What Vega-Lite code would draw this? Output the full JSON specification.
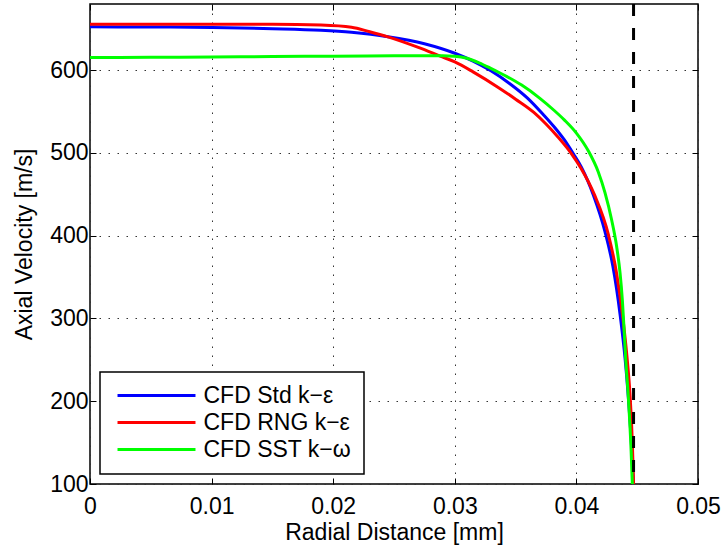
{
  "$schema": "https://vega.github.io/schema/vega-lite/v6.json",
  "width": 608,
  "height": 480,
  "autosize": "none",
  "padding": {"left": 90, "top": 4, "right": 26, "bottom": 62},
  "background": "white",
  "config": {
    "font": "Liberation Sans",
    "view": {"stroke": "black", "strokeWidth": 1.5},
    "axis": {
      "labelFontSize": 23,
      "titleFontSize": 23,
      "titleFontWeight": "normal",
      "labelColor": "black",
      "titleColor": "black",
      "domain": false,
      "tickColor": "black",
      "tickWidth": 1,
      "tickSize": -6,
      "gridColor": "#333333",
      "gridDash": [1.5, 7.5],
      "gridOpacity": 1,
      "gridWidth": 1
    }
  },
  "datasets": {
    "curves": [
      {"m": "CFD Std k−ε", "x": 0, "v": 652.4},
      {"m": "CFD Std k−ε", "x": 0.005, "v": 652.2},
      {"m": "CFD Std k−ε", "x": 0.01, "v": 651.6},
      {"m": "CFD Std k−ε", "x": 0.015, "v": 650.2},
      {"m": "CFD Std k−ε", "x": 0.019, "v": 648.3},
      {"m": "CFD Std k−ε", "x": 0.0215, "v": 645.8},
      {"m": "CFD Std k−ε", "x": 0.0245, "v": 640.5},
      {"m": "CFD Std k−ε", "x": 0.0275, "v": 632},
      {"m": "CFD Std k−ε", "x": 0.03, "v": 620.5},
      {"m": "CFD Std k−ε", "x": 0.0315, "v": 611},
      {"m": "CFD Std k−ε", "x": 0.033, "v": 599},
      {"m": "CFD Std k−ε", "x": 0.0345, "v": 584},
      {"m": "CFD Std k−ε", "x": 0.036, "v": 566},
      {"m": "CFD Std k−ε", "x": 0.0373, "v": 546},
      {"m": "CFD Std k−ε", "x": 0.0382, "v": 531},
      {"m": "CFD Std k−ε", "x": 0.039, "v": 516},
      {"m": "CFD Std k−ε", "x": 0.03975, "v": 499},
      {"m": "CFD Std k−ε", "x": 0.0404, "v": 483},
      {"m": "CFD Std k−ε", "x": 0.0414, "v": 449},
      {"m": "CFD Std k−ε", "x": 0.04235, "v": 405},
      {"m": "CFD Std k−ε", "x": 0.043, "v": 363},
      {"m": "CFD Std k−ε", "x": 0.04359, "v": 305},
      {"m": "CFD Std k−ε", "x": 0.044, "v": 252},
      {"m": "CFD Std k−ε", "x": 0.04427, "v": 205},
      {"m": "CFD Std k−ε", "x": 0.0445, "v": 155},
      {"m": "CFD Std k−ε", "x": 0.0447, "v": 100},
      {"m": "CFD RNG k−ε", "x": 0, "v": 655.5},
      {"m": "CFD RNG k−ε", "x": 0.005, "v": 655.6},
      {"m": "CFD RNG k−ε", "x": 0.01, "v": 655.6},
      {"m": "CFD RNG k−ε", "x": 0.015, "v": 655.6},
      {"m": "CFD RNG k−ε", "x": 0.019, "v": 654.6},
      {"m": "CFD RNG k−ε", "x": 0.0215, "v": 652},
      {"m": "CFD RNG k−ε", "x": 0.023, "v": 646.5},
      {"m": "CFD RNG k−ε", "x": 0.0245, "v": 640.3},
      {"m": "CFD RNG k−ε", "x": 0.027, "v": 627.5},
      {"m": "CFD RNG k−ε", "x": 0.0288, "v": 617},
      {"m": "CFD RNG k−ε", "x": 0.03, "v": 610},
      {"m": "CFD RNG k−ε", "x": 0.0315, "v": 598},
      {"m": "CFD RNG k−ε", "x": 0.0337, "v": 578},
      {"m": "CFD RNG k−ε", "x": 0.035, "v": 565},
      {"m": "CFD RNG k−ε", "x": 0.0365, "v": 549},
      {"m": "CFD RNG k−ε", "x": 0.0375, "v": 535},
      {"m": "CFD RNG k−ε", "x": 0.0385, "v": 519},
      {"m": "CFD RNG k−ε", "x": 0.0396, "v": 499},
      {"m": "CFD RNG k−ε", "x": 0.0404, "v": 481},
      {"m": "CFD RNG k−ε", "x": 0.0415, "v": 449},
      {"m": "CFD RNG k−ε", "x": 0.04262, "v": 402},
      {"m": "CFD RNG k−ε", "x": 0.0433, "v": 355},
      {"m": "CFD RNG k−ε", "x": 0.0438, "v": 303},
      {"m": "CFD RNG k−ε", "x": 0.04415, "v": 255},
      {"m": "CFD RNG k−ε", "x": 0.0444, "v": 210},
      {"m": "CFD RNG k−ε", "x": 0.0446, "v": 150},
      {"m": "CFD RNG k−ε", "x": 0.0447, "v": 100},
      {"m": "CFD SST k−ω", "x": 0, "v": 615.3},
      {"m": "CFD SST k−ω", "x": 0.005, "v": 615.6},
      {"m": "CFD SST k−ω", "x": 0.01, "v": 616},
      {"m": "CFD SST k−ω", "x": 0.015, "v": 616.5},
      {"m": "CFD SST k−ω", "x": 0.02, "v": 617},
      {"m": "CFD SST k−ω", "x": 0.025, "v": 617.4},
      {"m": "CFD SST k−ω", "x": 0.029, "v": 617.6},
      {"m": "CFD SST k−ω", "x": 0.03, "v": 617},
      {"m": "CFD SST k−ω", "x": 0.031, "v": 614.5},
      {"m": "CFD SST k−ω", "x": 0.032, "v": 609},
      {"m": "CFD SST k−ω", "x": 0.033, "v": 602},
      {"m": "CFD SST k−ω", "x": 0.0342, "v": 593},
      {"m": "CFD SST k−ω", "x": 0.0355, "v": 582},
      {"m": "CFD SST k−ω", "x": 0.037, "v": 566},
      {"m": "CFD SST k−ω", "x": 0.0382, "v": 551},
      {"m": "CFD SST k−ω", "x": 0.039, "v": 540},
      {"m": "CFD SST k−ω", "x": 0.04, "v": 524},
      {"m": "CFD SST k−ω", "x": 0.041, "v": 502},
      {"m": "CFD SST k−ω", "x": 0.0418, "v": 477},
      {"m": "CFD SST k−ω", "x": 0.04235, "v": 452},
      {"m": "CFD SST k−ω", "x": 0.0429, "v": 419},
      {"m": "CFD SST k−ω", "x": 0.04331, "v": 387},
      {"m": "CFD SST k−ω", "x": 0.04359, "v": 355},
      {"m": "CFD SST k−ω", "x": 0.04378, "v": 322},
      {"m": "CFD SST k−ω", "x": 0.04391, "v": 290},
      {"m": "CFD SST k−ω", "x": 0.04405, "v": 252},
      {"m": "CFD SST k−ω", "x": 0.04427, "v": 205},
      {"m": "CFD SST k−ω", "x": 0.0445, "v": 140},
      {"m": "CFD SST k−ω", "x": 0.0446, "v": 100}
    ],
    "wall": [{"x": 0.0447}]
  },
  "layer": [
    {
      "data": {"name": "curves"},
      "mark": {"type": "line", "strokeWidth": 3, "clip": true, "interpolate": "monotone"},
      "encoding": {
        "x": {
          "field": "x", "type": "quantitative",
          "scale": {"domain": [0, 0.05], "nice": false, "zero": false},
          "axis": {"values": [0, 0.01, 0.02, 0.03, 0.04, 0.05], "format": ".2~f", "title": "Radial Distance [mm]", "grid": true, "labelPadding": 17, "titlePadding": 3, "labelFlush": false}
        },
        "y": {
          "field": "v", "type": "quantitative",
          "scale": {"domain": [100, 680], "nice": false, "zero": false},
          "axis": {"values": [100, 200, 300, 400, 500, 600], "title": "Axial Velocity [m/s]", "grid": true, "labelPadding": 8, "titlePadding": 13, "labelFlush": false}
        },
        "color": {
          "field": "m", "type": "nominal",
          "scale": {"domain": ["CFD Std k−ε", "CFD RNG k−ε", "CFD SST k−ω"], "range": ["#0000ff", "#ff0000", "#00ff00"]},
          "sort": ["CFD Std k−ε", "CFD RNG k−ε", "CFD SST k−ω"],
          "legend": {
            "title": null,
            "orient": "none",
            "legendX": 10,
            "legendY": 368,
            "symbolType": "M-4,0H4",
            "symbolSize": 380,
            "symbolStrokeWidth": 3,
            "labelFontSize": 23,
            "labelColor": "black",
            "strokeColor": "black",
            "fillColor": "white",
            "padding": 12,
            "rowPadding": 3,
            "symbolOffset": 33,
            "labelOffset": 35.5,
            "encode": {"legend": {"update": {"strokeWidth": {"value": 1.5}}}}
          }
        }
      }
    },
    {
      "data": {"name": "wall"},
      "mark": {"type": "rule", "strokeWidth": 3, "strokeDash": [12, 12], "color": "black"},
      "encoding": {
        "x": {"field": "x", "type": "quantitative", "axis": null}
      }
    },
    {
      "data": {"name": "curves"},
      "mark": {"type": "line", "opacity": 0},
      "encoding": {
        "x": {"field": "x", "type": "quantitative", "axis": {"orient": "top", "values": [0, 0.01, 0.02, 0.03, 0.04, 0.05], "labels": false, "title": null, "grid": false}},
        "y": {"field": "v", "type": "quantitative", "axis": {"orient": "right", "values": [100, 200, 300, 400, 500, 600], "labels": false, "title": null, "grid": false}},
        "detail": {"field": "m"}
      }
    }
  ],
  "resolve": {"axis": {"x": "independent", "y": "independent"}}
}
